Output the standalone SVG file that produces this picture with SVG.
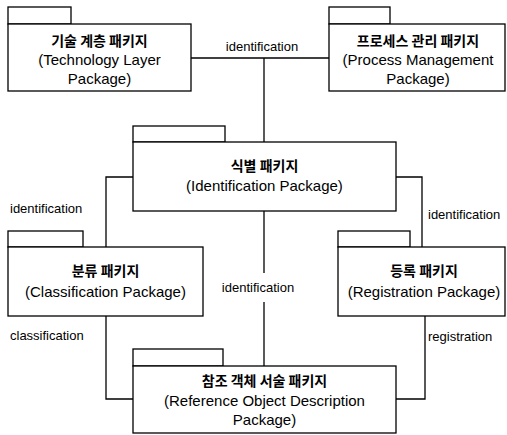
<svg xmlns="http://www.w3.org/2000/svg" width="507" height="435" viewBox="0 0 507 435">
  <style>
    .box { fill: #fff; stroke: #000; stroke-width: 1.3; }
    .wire { fill: none; stroke: #000; stroke-width: 1.3; }
    .ko { font-family: "Noto Sans CJK KR", "Liberation Sans", sans-serif; font-size: 14px; font-weight: 700; text-anchor: middle; fill: #000; }
    .en { font-family: "Liberation Sans", Arial, sans-serif; font-size: 15px; text-anchor: middle; fill: #000; }
    .lbl { font-family: "Liberation Sans", Arial, sans-serif; font-size: 13px; fill: #000; }
  </style>
  <rect width="507" height="435" fill="#fff"/>

  <!-- connectors between packages -->
  <g id="connectors">
    <line class="wire" x1="191" y1="58" x2="329" y2="58"/>
    <line class="wire" x1="264" y1="58" x2="264" y2="142"/>
    <polyline class="wire" points="133,177 106,177 106,247"/>
    <polyline class="wire" points="396,177 422,177 422,247"/>
    <line class="wire" x1="264" y1="211" x2="264" y2="273"/>
    <line class="wire" x1="264" y1="302" x2="264" y2="366"/>
    <polyline class="wire" points="106,316 106,399 133,399"/>
    <polyline class="wire" points="425,316 425,399 396,399"/>
    <text class="lbl" x="262" y="51" text-anchor="middle">identification</text>
    <text class="lbl" x="10" y="213">identification</text>
    <text class="lbl" x="428" y="219">identification</text>
    <text class="lbl" x="258" y="292" text-anchor="middle">identification</text>
    <text class="lbl" x="10" y="340">classification</text>
    <text class="lbl" x="428" y="341">registration</text>
  </g>

  <g id="technology-layer">
    <rect class="box" x="8" y="7" width="63" height="17"/>
    <rect class="box" x="8" y="24" width="183" height="67"/>
    <text class="ko" x="99.5" y="46">기술 계층 패키지</text>
    <text class="en" x="99.5" y="65">(Technology Layer</text>
    <text class="en" x="99.5" y="84">Package)</text>
  </g>

  <g id="process-management">
    <rect class="box" x="329" y="7" width="61" height="17"/>
    <rect class="box" x="329" y="24" width="176" height="67"/>
    <text class="ko" x="418" y="46">프로세스 관리 패키지</text>
    <text class="en" x="418" y="65">(Process Management</text>
    <text class="en" x="418" y="84">Package)</text>
  </g>

  <g id="identification">
    <rect class="box" x="133" y="126" width="92" height="16"/>
    <rect class="box" x="133" y="142" width="263" height="69"/>
    <text class="ko" x="264.5" y="171">식별 패키지</text>
    <text class="en" x="264.5" y="191">(Identification Package)</text>
  </g>

  <g id="classification">
    <rect class="box" x="8" y="231" width="75" height="16"/>
    <rect class="box" x="8" y="247" width="195" height="69"/>
    <text class="ko" x="105.5" y="276">분류 패키지</text>
    <text class="en" x="105.5" y="297">(Classification Package)</text>
  </g>

  <g id="registration">
    <rect class="box" x="338" y="231" width="72" height="16"/>
    <rect class="box" x="338" y="247" width="167" height="69"/>
    <text class="ko" x="424" y="276">등록 패키지</text>
    <text class="en" x="424" y="297">(Registration Package)</text>
  </g>

  <g id="reference-object-description">
    <rect class="box" x="133" y="349" width="90" height="17"/>
    <rect class="box" x="133" y="366" width="263" height="67"/>
    <text class="ko" x="264.5" y="386">참조 객체 서술 패키지</text>
    <text class="en" x="264.5" y="406">(Reference Object Description</text>
    <text class="en" x="264.5" y="425">Package)</text>
  </g>
</svg>
